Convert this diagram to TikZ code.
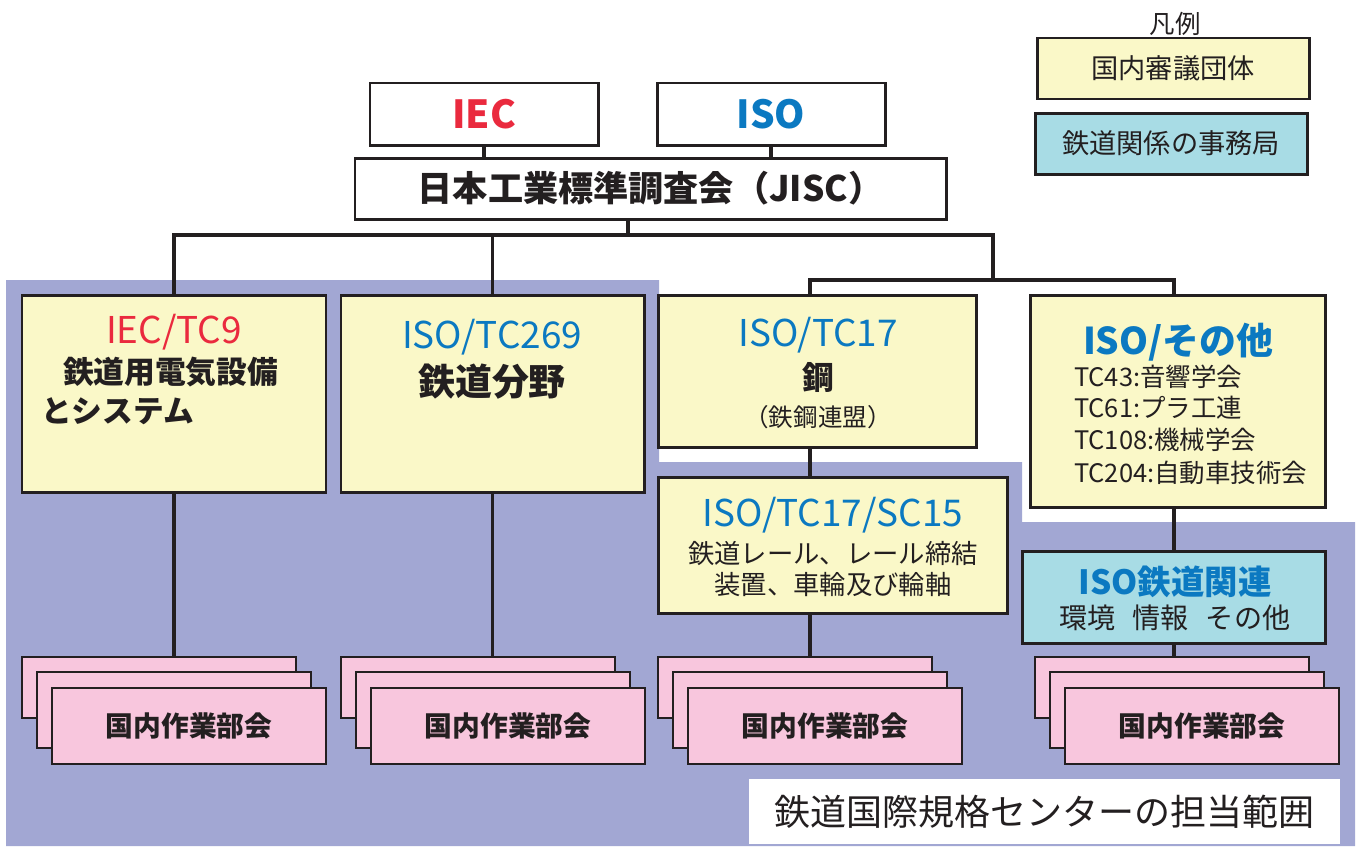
\documentclass[tikz,border=0pt]{standalone}
\usepackage{fontspec}
\setmainfont{Noto Sans CJK JP}
\usetikzlibrary{calc}

% Colours picked from the original chart
\definecolor{areablue}{HTML}{A2A7D3}
\definecolor{boxyellow}{HTML}{FAF8C8}
\definecolor{boxcyan}{HTML}{A8DCE5}
\definecolor{boxpink}{HTML}{F8C6DD}
\definecolor{iecred}{HTML}{EA2A3E}
\definecolor{isoblue}{HTML}{0B79C1}
\definecolor{inkblack}{HTML}{231F20}

% Font size in pt, baselineskip equal to the size
\newcommand{\chartsize}[1]{\fontsize{#1}{#1}\selectfont}

\begin{document}
\begin{tikzpicture}[
    x=0.02cm, y=-0.02cm, % 1 unit = 1 pixel of the original, y grows downwards
    every node/.style={inner sep=0pt, outer sep=0pt, text=inkblack}
  ]

% Keep the original 1359 x 846 frame
\useasboundingbox (0,0) rectangle (1359,846);

% Styles for boxes, texts and connectors
\tikzset{
  box_size/.style 2 args={anchor=north west, minimum width=#1*0.02cm, minimum height=#2*0.02cm},
  white_box/.style={draw=inkblack, fill=white, line width=1.7pt},
  member_box/.style={draw=inkblack, fill=boxyellow, line width=1.7pt},
  office_box/.style={draw=inkblack, fill=boxcyan, line width=1.7pt},
  group_box/.style={draw=inkblack, fill=boxpink, line width=1.3pt},
  head_text/.style={font=\chartsize{21}},
  link/.style={draw=inkblack, line width=2pt}
}

% Area covered by the railway standards centre (blue background)
\fill[areablue] (6,280) -- (659,280) -- (659,462) -- (1022,462) -- (1022,522)
  -- (1355,522) -- (1355,846) -- (6,846) -- cycle;

% Label of the covered area, bottom right
\node[box_size={591}{65}, fill=white, font=\chartsize{20.5}] (area_label) at (749,779)
  {鉄道国際規格センターの担当範囲};

% Top level: IEC, ISO and JISC
\node[white_box, box_size={228}{62}, text=iecred, font=\bfseries\chartsize{22}] (iec) at (370,83) {IEC};
\node[white_box, box_size={228}{62}, text=isoblue, font=\bfseries\chartsize{22}] (iso) at (657,83) {ISO};
\node[white_box, box_size={591}{61}, font=\bfseries\chartsize{20}] (jisc) at (355,158)
  {日本工業標準調査会（JISC）};

% Committees (yellow boxes)
\node[member_box, box_size={304}{197}] (tc9) at (22,295) {};
\node[member_box, box_size={303}{197}] (tc269) at (341,295) {};
\node[member_box, box_size={318}{152}] (tc17) at (658,295) {};
\node[member_box, box_size={349}{136}] (sc15) at (658,477) {};
\node[member_box, box_size={295}{212}] (other) at (1030,295) {};
\node[office_box, box_size={303}{92}] (rail) at (1022,551) {};

% IEC/TC9 texts
\node[head_text, text=iecred] (tc9_head) at (174,332) {IEC/TC9};
\node[anchor=west, font=\bfseries\chartsize{17.5}] (tc9_line1) at (63,372) {鉄道用電気設備};
\node[anchor=west, font=\bfseries\chartsize{17.5}] (tc9_line2) at (41,411) {とシステム};

% ISO/TC269 texts
\node[head_text, text=isoblue] (tc269_head) at (492,337) {ISO/TC269};
\node[font=\bfseries\chartsize{21}] (tc269_line1) at (492,382) {鉄道分野};

% ISO/TC17 texts
\node[head_text, text=isoblue] (tc17_head) at (818,335) {ISO/TC17};
\node[font=\bfseries\chartsize{18}] (tc17_line1) at (818,377) {鋼};
\node[font=\chartsize{14}] (tc17_line2) at (818,417) {（鉄鋼連盟）};

% ISO/TC17/SC15 texts
\node[head_text, text=isoblue] (sc15_head) at (833,515) {ISO/TC17/SC15};
\node[font=\chartsize{15}] (sc15_line1) at (833,554) {鉄道レール、レール締結};
\node[font=\chartsize{15}] (sc15_line2) at (833,585) {装置、車輪及び輪軸};

% ISO/other texts
\node[font=\bfseries\chartsize{21}, text=isoblue] (other_head) at (1178,342) {ISO/その他};
\node[anchor=west, font=\chartsize{14.5}] (other_line1) at (1074,377) {TC43:音響学会};
\node[anchor=west, font=\chartsize{14.5}] (other_line2) at (1074,408) {TC61:プラ工連};
\node[anchor=west, font=\chartsize{14.5}] (other_line3) at (1074,440) {TC108:機械学会};
\node[anchor=west, font=\chartsize{14.5}] (other_line4) at (1074,473) {TC204:自動車技術会};

% ISO railway related texts
\node[font=\bfseries\chartsize{19}, text=isoblue] (rail_head) at (1175,582) {ISO鉄道関連};
\node[font=\chartsize{16}] (rail_line1) at (1175,618) {環境\hspace{0.6em}情報\hspace{0.6em}その他};

% Working groups: three stacked pink boxes under each committee
% Stack under IEC/TC9
\node[group_box, box_size={274}{61}] (wga_back) at (22,657) {};
\node[group_box, box_size={274}{76}] (wga_mid) at (37,672) {};
\node[group_box, box_size={274}{76}, font=\bfseries\chartsize{15.8}] (wga_front) at (52,688) {国内作業部会};
% Stack under ISO/TC269
\node[group_box, box_size={274}{61}] (wgb_back) at (341,657) {};
\node[group_box, box_size={274}{76}] (wgb_mid) at (356,672) {};
\node[group_box, box_size={274}{76}, font=\bfseries\chartsize{15.8}] (wgb_front) at (371,688) {国内作業部会};
% Stack under ISO/TC17/SC15
\node[group_box, box_size={274}{61}] (wgc_back) at (658,657) {};
\node[group_box, box_size={274}{76}] (wgc_mid) at (673,672) {};
\node[group_box, box_size={274}{76}, font=\bfseries\chartsize{15.8}] (wgc_front) at (688,688) {国内作業部会};
% Stack under ISO railway related
\node[group_box, box_size={274}{61}] (wgd_back) at (1035,657) {};
\node[group_box, box_size={274}{76}] (wgd_mid) at (1050,672) {};
\node[group_box, box_size={274}{76}, font=\bfseries\chartsize{15.8}] (wgd_front) at (1065,688) {国内作業部会};

% Legend, top right
\node[font=\chartsize{14.5}] (legend_title) at (1175,24) {凡例};
\node[member_box, box_size={272}{61}, font=\chartsize{15.5}] (legend_member) at (1037,38) {国内審議団体};
\node[office_box, box_size={272}{61}, font=\chartsize{15.5}] (legend_office) at (1035,113) {鉄道関係の事務局};

% Bus lines below JISC
\coordinate (bus_mid) at (628,235);
\coordinate (bus_right) at (993,235);
\coordinate (sub_left) at (810,280);
\coordinate (sub_right) at (1174,280);

% Connectors
\draw[link] (iec.south) -- (iec.south |- jisc.north);
\draw[link] (iso.south) -- (iso.south |- jisc.north);
\draw[link] (bus_mid |- jisc.south) -- (bus_mid);
\draw[link] (tc9.north) |- (bus_right) -- (bus_right |- sub_left);
\draw[link] (tc269.north) -- (tc269.north |- bus_mid);
\draw[link] (sub_left |- tc17.north) |- (sub_right) -- (sub_right |- other.north);
\draw[link] (sub_left |- tc17.south) -- (sub_left |- sc15.north);
\draw[link] (sub_right |- other.south) -- (sub_right |- rail.north);
\draw[link] (tc9.south) -- (tc9.south |- wga_back.north);
\draw[link] (tc269.south) -- (tc269.south |- wgb_back.north);
\draw[link] (sub_left |- sc15.south) -- (sub_left |- wgc_back.north);
\draw[link] (sub_right |- rail.south) -- (sub_right |- wgd_back.north);

\end{tikzpicture}
\end{document}
